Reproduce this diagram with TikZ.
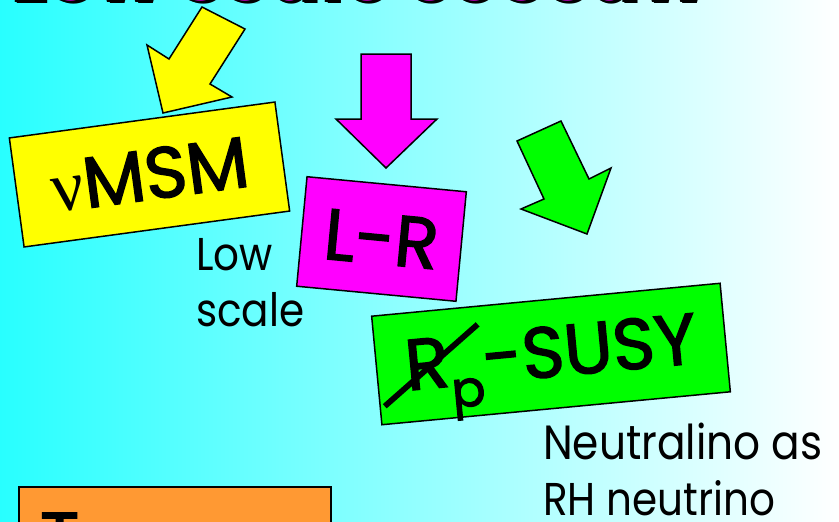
\documentclass[tikz,border=0pt]{standalone}
\usepackage{fontspec}
\setmainfont{Poppins}
\newfontfamily\greekfont{Liberation Serif}
\newfontfamily\boxfont[FakeBold=2]{Poppins}
\newfontfamily\notefont[FakeStretch=0.88]{Poppins}

\definecolor{bgcyan}{RGB}{40,255,255}
\definecolor{boxyellow}{RGB}{255,255,0}
\definecolor{boxmagenta}{RGB}{255,0,255}
\definecolor{boxgreen}{RGB}{0,255,0}
\definecolor{boxorange}{RGB}{255,153,51}

\newcommand{\bigtext}{\boxfont\fontsize{72}{80}\selectfont}
\newcommand{\midtext}{\notefont\fontsize{46}{56}\selectfont}
\newcommand{\headtext}{\fontsize{77}{80}\selectfont\bfseries}
% black rim and shadow behind the title letters
\newcommand{\rimtext}[1]{%
  \makebox[0pt][l]{\textcolor{black}{\hspace{2.5pt}\raisebox{-2.5pt}{#1}}}%
  \makebox[0pt][l]{\textcolor{black}{\hspace{-1.2pt}#1}}%
  \makebox[0pt][l]{\textcolor{black}{\hspace{1.2pt}#1}}%
  \makebox[0pt][l]{\textcolor{black}{\raisebox{1.2pt}{#1}}}%
  \makebox[0pt][l]{\textcolor{black}{\raisebox{-1.2pt}{#1}}}%
  #1}
% R with a stroke through it
\newcommand{\slashR}{%
  \makebox[0pt][l]{\hspace{-0.36em}\raisebox{-0.22em}{\rotatebox{36}{\rule{1.72em}{0.08em}}}}R}

\begin{document}
\begin{tikzpicture}[x=1pt, y=-1pt,
    box/.style={draw=black, line width=1.5pt, inner sep=0pt, minimum height=110pt, font=\bigtext},
    note/.style={font=\midtext, align=left, anchor=north west, inner sep=0pt},
    blockarrow/.style={draw=black, line width=1.5pt, line join=miter},
    heading/.style={font=\headtext, text=boxmagenta, anchor=base west, inner sep=0pt}]
  \useasboundingbox (0,0) rectangle (839,522);
  \clip (0,0) rectangle (839,522);
  \shade[left color=bgcyan, right color=white] (0,0) rectangle (839,522);

  % title, only its lower edge is on the page
  \node[heading] (title) at (10,1) {\rimtext{Low scale seesaw}};

  % block arrows
  \draw[blockarrow, fill=boxyellow] (163,113) -- (147,45) -- (169,59) -- (202,7)
    -- (245,29) -- (210,84) -- (232,97) -- cycle;
  \draw[blockarrow, fill=boxmagenta] (361,54) -- (411,54) -- (411,119) -- (437,119)
    -- (386,168) -- (336,119) -- (361,119) -- cycle;
  \draw[blockarrow, fill=boxgreen] (517,141) -- (561,121) -- (589,179) -- (611,168)
    -- (587,234) -- (521,209) -- (544,199) -- cycle;

  % boxes
  \node[box, fill=boxyellow, rotate=7.7, minimum width=268pt] (nmsm) at (149.5,174.5)
    {{\greekfont ν}MSM};
  \node[box, fill=boxmagenta, rotate=-5.4, minimum width=160pt] (lr) at (381.5,239) {L-R};
  \node[box, fill=boxgreen, rotate=5.4, minimum width=350pt, minimum height=109pt] (susy) at (551,354)
    {\slashR\smash{\raisebox{-0.3em}{\fontsize{50}{50}\selectfont p}}-SUSY};
  \node[box, fill=boxorange, anchor=north west, minimum width=312pt, minimum height=100pt] (lower) at (18,486) {};
  \node[font=\bigtext, anchor=base west, inner sep=0pt] (lowertext) at (40,563) {T};

  % side notes
  \node[note] (lowscale) at (196,238) {Low\\scale};
  \node[note] (neutralino) at (543,423) {\fontsize{48}{57}\selectfont Neutralino as\\RH neutrino};
\end{tikzpicture}
\end{document}
